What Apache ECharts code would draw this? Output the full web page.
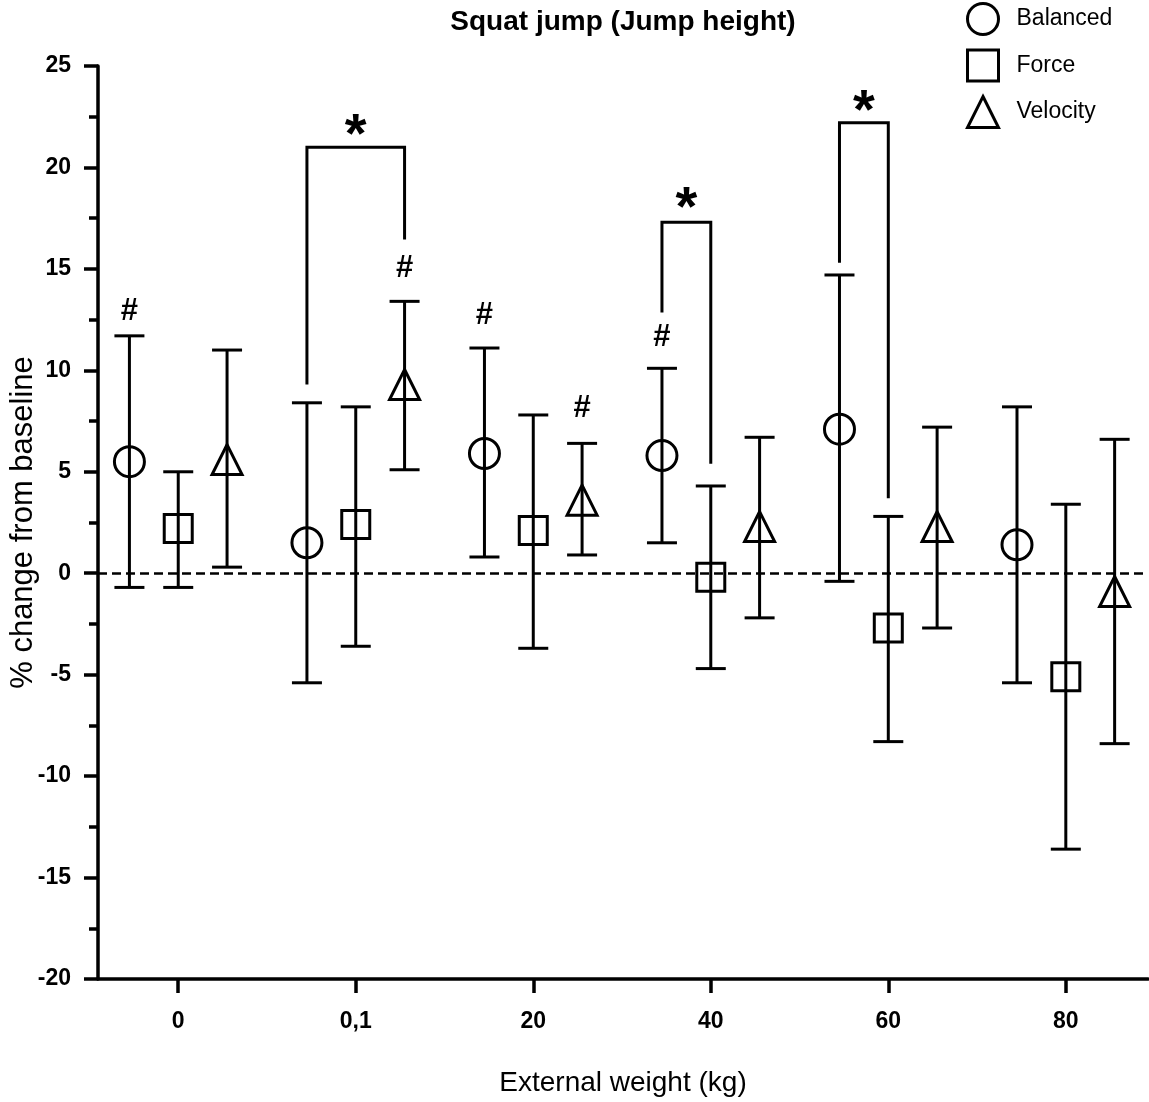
<!DOCTYPE html>
<html>
<head>
<meta charset="utf-8">
<title>Squat jump (Jump height)</title>
<script src="https://cdn.jsdelivr.net/npm/echarts@6/dist/echarts.min.js"></script>
<style>
  html, body { margin: 0; padding: 0; background: #fff; }
  #chart { width: 1149px; height: 1102px; }
</style>
</head>
<body>
<div id="chart"></div>
<script>
// categories (external weight, kg)
var xLabels = ['0', '0,1', '20', '40', '60', '80'];
var yTicks = [-20, -15, -10, -5, 0, 5, 10, 15, 20, 25];

// mean and error bar ends, % change from baseline
var balancedMean = [5.5, 1.5, 5.9, 5.8, 7.1, 1.4];
var balancedUpper = [11.7, 8.4, 11.1, 10.1, 14.7, 8.2];
var balancedLower = [-0.7, -5.4, 0.8, 1.5, -0.4, -5.4];

var forceMean = [2.2, 2.4, 2.1, -0.2, -2.7, -5.1];
var forceUpper = [5.0, 8.2, 7.8, 4.3, 2.8, 3.4];
var forceLower = [-0.7, -3.6, -3.7, -4.7, -8.3, -13.6];

var velocityMean = [5.6, 9.3, 3.6, 2.3, 2.3, -0.9];
var velocityUpper = [11.0, 13.4, 6.4, 6.7, 7.2, 6.6];
var velocityLower = [0.3, 5.1, 0.9, -2.2, -2.7, -8.4];

// significance brackets (*) between groups
var bracketCat = [1, 3, 4];
var bracketTo = ['Velocity', 'Force', 'Force'];
var bracketTop = [21.0, 17.3, 22.2];
var bracketLeftEnd = [9.3, 12.85, 15.3];
var bracketRightEnd = [16.45, 5.4, 3.7];
var starY = [21.5, 17.9, 22.7];

// # marks
var hashCat = [0, 1, 2, 2, 3];
var hashGroup = ['Balanced', 'Velocity', 'Balanced', 'Velocity', 'Balanced'];
var hashY = [12.9, 15.0, 12.7, 8.1, 11.6];

var FONT = '"Liberation Sans", Arial, Helvetica, sans-serif';
var offset = { Balanced: -0.275, Force: 0, Velocity: 0.275 };
var LW = 3;

var chart = echarts.init(document.getElementById('chart'), null, { renderer: 'canvas' });

// error bars with caps
function errorBars(group, lower, upper) {
  return {
    type: 'custom',
    name: group + ' SD',
    silent: true,
    z: 2,
    encode: { x: 0, y: [1, 2] },
    data: lower.map(function(v, i) { return [i + offset[group], v, upper[i]]; }),
    renderItem: function(params, api) {
      var lo = api.coord([api.value(0), api.value(1)]);
      var hi = api.coord([api.value(0), api.value(2)]);
      var w = 15;
      var st = { stroke: '#000', lineWidth: LW };
      return {
        type: 'group',
        children: [
          { type: 'line', shape: { x1: lo[0], y1: lo[1], x2: hi[0], y2: hi[1] }, style: st },
          { type: 'line', shape: { x1: hi[0] - w, y1: hi[1], x2: hi[0] + w, y2: hi[1] }, style: st },
          { type: 'line', shape: { x1: lo[0] - w, y1: lo[1], x2: lo[0] + w, y2: lo[1] }, style: st }
        ]
      };
    }
  };
}

function markers(group, symbol, size, mean) {
  return {
    type: 'scatter',
    name: group,
    symbol: symbol,
    symbolSize: size,
    z: 3,
    silent: true,
    itemStyle: { color: 'rgba(0,0,0,0)', borderColor: '#000', borderWidth: LW, opacity: 1 },
    data: mean.map(function(v, i) { return [i + offset[group], v]; })
  };
}

var brackets = {
  type: 'custom',
  name: 'brackets',
  silent: true,
  z: 4,
  data: bracketCat.map(function(c, i) { return [c, i]; }),
  renderItem: function(params, api) {
    var i = api.value(1);
    var c = bracketCat[i];
    var xl = c + offset.Balanced, xr = c + offset[bracketTo[i]];
    var p1 = api.coord([xl, bracketLeftEnd[i]]);
    var p2 = api.coord([xl, bracketTop[i]]);
    var p3 = api.coord([xr, bracketTop[i]]);
    var p4 = api.coord([xr, bracketRightEnd[i]]);
    var s = api.coord([(xl + xr) / 2, starY[i]]);
    return {
      type: 'group',
      children: [
        { type: 'polyline', shape: { points: [p1, p2, p3, p4] }, style: { stroke: '#000', lineWidth: LW, fill: null } },
        { type: 'text', x: s[0], y: s[1], style: { text: '*', font: 'bold 56px ' + FONT, fill: '#000', align: 'center', verticalAlign: 'middle' } }
      ]
    };
  }
};

var hashes = {
  type: 'custom',
  name: 'hash',
  silent: true,
  z: 4,
  data: hashCat.map(function(c, i) { return [c + offset[hashGroup[i]], hashY[i]]; }),
  renderItem: function(params, api) {
    var p = api.coord([api.value(0), api.value(1)]);
    return { type: 'text', x: p[0], y: p[1], style: { text: '#', font: 'bold 31px ' + FONT, fill: '#000', align: 'center', verticalAlign: 'middle' } };
  }
};

var zeroLine = markers('Balanced', 'circle', 30, balancedMean);
zeroLine.markLine = {
  silent: true,
  symbol: 'none',
  label: { show: false },
  lineStyle: { type: [9, 5], color: '#000', width: 2.5 },
  data: [{ yAxis: 0 }]
};

var legendStyle = { color: 'rgba(0,0,0,0)', borderColor: '#000', borderWidth: LW };

var option = {
  animation: false,
  backgroundColor: '#fff',
  title: {
    text: 'Squat jump (Jump height)',
    left: 623,
    top: 8,
    textAlign: 'center',
    padding: 0,
    textStyle: { fontFamily: FONT, fontSize: 28, fontWeight: 'bold', color: '#000' }
  },
  legend: {
    orient: 'vertical',
    left: 966,
    top: 2,
    padding: 0,
    itemWidth: 31,
    itemHeight: 31,
    itemGap: 12.5,
    selectedMode: false,
    textStyle: { fontFamily: FONT, fontSize: 23, color: '#000', padding: [0, 0, 0, 13] },
    data: [
      { name: 'Balanced', icon: 'circle', itemStyle: legendStyle },
      { name: 'Force', icon: 'rect', itemStyle: legendStyle },
      { name: 'Velocity', icon: 'triangle', itemStyle: legendStyle }
    ]
  },
  grid: { left: 98, right: 1, top: 66, bottom: 123, containLabel: false, outerBoundsMode: 'none' },
  xAxis: {
    type: 'value',
    min: -0.452,
    max: 5.463,
    name: 'External weight (kg)',
    nameLocation: 'middle',
    nameGap: 90,
    nameMoveOverlap: false,
    nameTextStyle: { fontFamily: FONT, fontSize: 28, color: '#000' },
    splitLine: { show: false },
    axisLine: { show: true, onZero: false, lineStyle: { color: '#000', width: 3.5 } },
    axisTick: { show: true, length: 14, customValues: [0, 1, 2, 3, 4, 5], lineStyle: { color: '#000', width: 3.5 } },
    axisLabel: {
      customValues: [0, 1, 2, 3, 4, 5],
      margin: 31,
      fontFamily: FONT, fontSize: 23, fontWeight: 'bold', color: '#000',
      formatter: function(v) { return xLabels[Math.round(v)]; }
    }
  },
  yAxis: {
    type: 'value',
    min: yTicks[0],
    max: yTicks[yTicks.length - 1],
    interval: 5,
    name: '% change from baseline',
    nameLocation: 'middle',
    nameGap: 59,
    nameMoveOverlap: false,
    nameTextStyle: { fontFamily: FONT, fontSize: 31, color: '#000' },
    splitLine: { show: false },
    axisLine: { show: true, onZero: false, lineStyle: { color: '#000', width: 3.5 } },
    axisTick: { show: true, length: 14, lineStyle: { color: '#000', width: 3.5 } },
    minorTick: { show: true, splitNumber: 2, length: 9, lineStyle: { color: '#000', width: 3.5 } },
    axisLabel: { margin: 27, fontFamily: FONT, fontSize: 23, fontWeight: 'bold', color: '#000' }
  },
  series: [
    errorBars('Balanced', balancedLower, balancedUpper),
    errorBars('Force', forceLower, forceUpper),
    errorBars('Velocity', velocityLower, velocityUpper),
    zeroLine,
    markers('Force', 'rect', 28, forceMean),
    markers('Velocity', 'triangle', 30, velocityMean),
    brackets,
    hashes
  ]
};

chart.setOption(option);
</script>
</body>
</html>
